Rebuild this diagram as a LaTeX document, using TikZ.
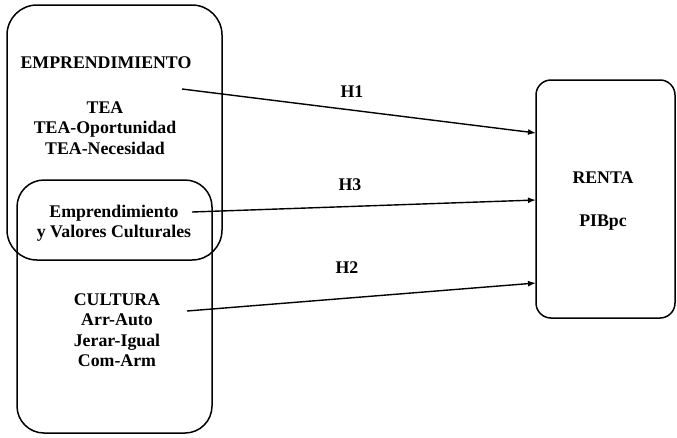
\documentclass[tikz,border=0pt]{standalone}
\usepackage{fontspec}
\setmainfont{Liberation Serif}
\usetikzlibrary{arrows.meta,positioning}

\begin{document}
\begin{tikzpicture}[x=1pt, y=-1pt,
      every node/.style={font=\fontsize{17.8}{20.5}\selectfont\bfseries},
      bloque/.style={draw, line width=1.5pt, inner sep=0pt},
      texto/.style={align=center, inner sep=0pt},
      flecha/.style={-{Latex[length=8pt,width=6pt]}, line width=1.4pt}
  ]
    \useasboundingbox (0,0) rectangle (677,437);
    % cajas
    \node[bloque, rounded corners=30pt, minimum width=215pt, minimum height=255pt] (emp) at (114.5,132.5) {};
    \node[bloque, rounded corners=27pt, minimum width=195pt, minimum height=253pt] (cul) at (114.5,306.5) {};
    \node[bloque, rounded corners=15pt, minimum width=139pt, minimum height=238pt] (renta) at (605.5,199) {};
    % textos
    \node[texto] (emptit) at (106,63) {EMPRENDIMIENTO};
    \node[texto] (tea) at (105,128) {TEA\\TEA-Oportunidad\\TEA-Necesidad};
    \node[texto] (valores) at (114,223) {Emprendimiento\\y Valores Culturales};
    \node[texto] (cultura) at (117,330) {CULTURA\\Arr-Auto\\Jerar-Igual\\Com-Arm};
    \node[texto] (rentatit) at (603,178) {RENTA};
    \node[texto] (pib) at (603,223) {PIBpc};
    % hipotesis
    \coordinate (h1s) at (182,89);
    \coordinate (h1e) at (536,133);
    \coordinate (h3s) at (192,212);
    \coordinate (h3e) at (536,200);
    \coordinate (h2s) at (187,311);
    \coordinate (h2e) at (536,283);
    \draw[flecha] (h1s) -- (h1e);
    \draw[flecha] (h3s) -- (h3e);
    \draw[flecha] (h2s) -- (h2e);
    \node[texto] (lh1) at (352,92) {H1};
    \node[texto] (lh3) at (350,185) {H3};
    \node[texto] (lh2) at (347,268) {H2};
  \end{tikzpicture}
\end{document}
